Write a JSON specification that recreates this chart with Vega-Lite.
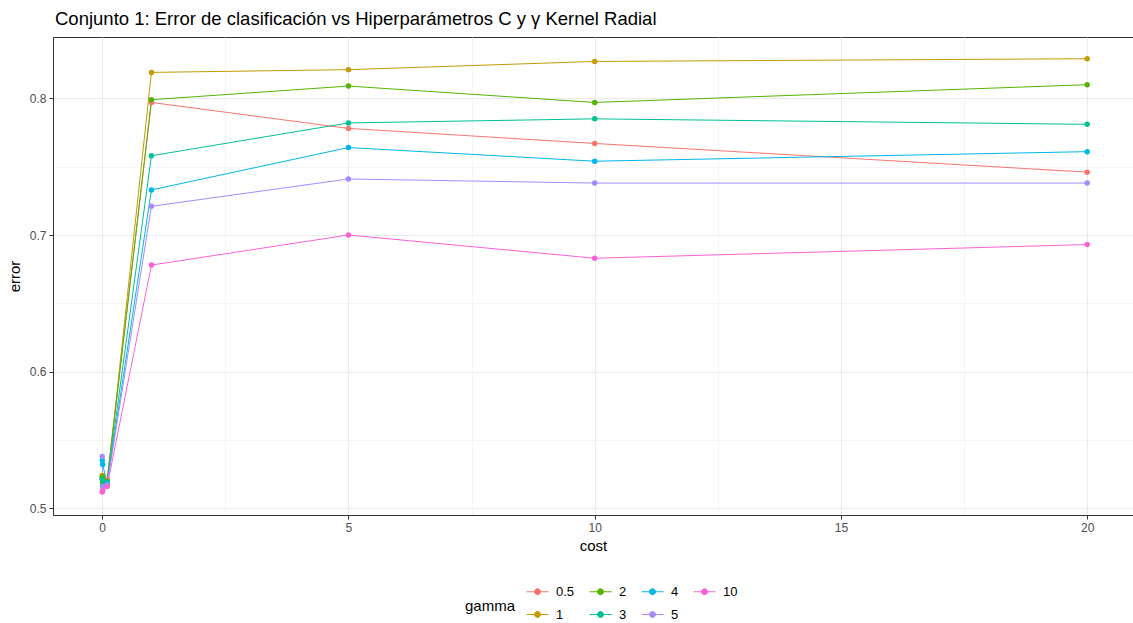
{
  "$schema": "https://vega.github.io/schema/vega-lite/v6.json",
  "autosize": "none",
  "width": 1080,
  "height": 478,
  "padding": {"left": 53, "top": 37, "right": 0, "bottom": 108},
  "background": "white",
  "title": {
    "text": "Conjunto 1: Error de clasificación vs Hiperparámetros C y γ Kernel Radial",
    "anchor": "start",
    "frame": "group",
    "offset": 9,
    "dx": 2,
    "font": "Liberation Sans",
    "fontSize": 18.5,
    "fontWeight": "normal",
    "color": "#000000"
  },
  "config": {
    "view": {"stroke": "#333333", "strokeWidth": 1},
    "font": "Liberation Sans",
    "axis": {
      "labelFont": "Liberation Sans",
      "titleFont": "Liberation Sans",
      "labelColor": "#4D4D4D",
      "labelFontSize": 12,
      "titleFontSize": 15,
      "titleFontWeight": "normal",
      "titleColor": "#000000",
      "domainColor": "#333333",
      "tickSize": 4,
      "tickColor": "#333333"
    }
  },
  "data": {
    "values": [
      {"cost": 0.001, "gamma": "0.5", "error": 0.522},
      {"cost": 0.01, "gamma": "0.5", "error": 0.520},
      {"cost": 0.1, "gamma": "0.5", "error": 0.521},
      {"cost": 1, "gamma": "0.5", "error": 0.797},
      {"cost": 5, "gamma": "0.5", "error": 0.778},
      {"cost": 10, "gamma": "0.5", "error": 0.767},
      {"cost": 20, "gamma": "0.5", "error": 0.746},
      {"cost": 0.001, "gamma": "1", "error": 0.524},
      {"cost": 0.01, "gamma": "1", "error": 0.521},
      {"cost": 0.1, "gamma": "1", "error": 0.518},
      {"cost": 1, "gamma": "1", "error": 0.819},
      {"cost": 5, "gamma": "1", "error": 0.821},
      {"cost": 10, "gamma": "1", "error": 0.827},
      {"cost": 20, "gamma": "1", "error": 0.829},
      {"cost": 0.001, "gamma": "2", "error": 0.523},
      {"cost": 0.01, "gamma": "2", "error": 0.519},
      {"cost": 0.1, "gamma": "2", "error": 0.520},
      {"cost": 1, "gamma": "2", "error": 0.799},
      {"cost": 5, "gamma": "2", "error": 0.809},
      {"cost": 10, "gamma": "2", "error": 0.797},
      {"cost": 20, "gamma": "2", "error": 0.810},
      {"cost": 0.001, "gamma": "3", "error": 0.521},
      {"cost": 0.01, "gamma": "3", "error": 0.517},
      {"cost": 0.1, "gamma": "3", "error": 0.519},
      {"cost": 1, "gamma": "3", "error": 0.758},
      {"cost": 5, "gamma": "3", "error": 0.782},
      {"cost": 10, "gamma": "3", "error": 0.785},
      {"cost": 20, "gamma": "3", "error": 0.781},
      {"cost": 0.001, "gamma": "4", "error": 0.535},
      {"cost": 0.01, "gamma": "4", "error": 0.532},
      {"cost": 0.1, "gamma": "4", "error": 0.518},
      {"cost": 1, "gamma": "4", "error": 0.733},
      {"cost": 5, "gamma": "4", "error": 0.764},
      {"cost": 10, "gamma": "4", "error": 0.754},
      {"cost": 20, "gamma": "4", "error": 0.761},
      {"cost": 0.001, "gamma": "5", "error": 0.538},
      {"cost": 0.01, "gamma": "5", "error": 0.516},
      {"cost": 0.1, "gamma": "5", "error": 0.517},
      {"cost": 1, "gamma": "5", "error": 0.721},
      {"cost": 5, "gamma": "5", "error": 0.741},
      {"cost": 10, "gamma": "5", "error": 0.738},
      {"cost": 20, "gamma": "5", "error": 0.738},
      {"cost": 0.001, "gamma": "10", "error": 0.512},
      {"cost": 0.01, "gamma": "10", "error": 0.513},
      {"cost": 0.1, "gamma": "10", "error": 0.516},
      {"cost": 1, "gamma": "10", "error": 0.678},
      {"cost": 5, "gamma": "10", "error": 0.700},
      {"cost": 10, "gamma": "10", "error": 0.683},
      {"cost": 20, "gamma": "10", "error": 0.693}
    ]
  },
  "mark": {"type": "line", "strokeWidth": 1, "point": {"filled": true, "size": 30, "opacity": 1}},
  "encoding": {
    "x": {
      "field": "cost",
      "type": "quantitative",
      "scale": {"domain": [-0.999, 20.93], "nice": false, "zero": false},
      "axis": {
        "title": "cost",
        "values": [0, 2.5, 5, 7.5, 10, 12.5, 15, 17.5, 20],
        "labelExpr": "datum.value % 5 === 0 ? format(datum.value, 'd') : ''",
        "gridColor": {"condition": {"test": "datum.value % 5 === 0", "value": "#EBEBEB"}, "value": "#F5F5F5"},
        "tickOpacity": {"condition": {"test": "datum.value % 5 === 0", "value": 1}, "value": 0},
        "titlePadding": 5,
        "labelPadding": 3
      }
    },
    "y": {
      "field": "error",
      "type": "quantitative",
      "scale": {"domain": [0.4951, 0.8449], "nice": false, "zero": false},
      "axis": {
        "title": "error",
        "values": [0.5, 0.55, 0.6, 0.65, 0.7, 0.75, 0.8],
        "labelExpr": "round(datum.value * 100) % 10 === 0 ? format(datum.value, '.1f') : ''",
        "gridColor": {"condition": {"test": "round(datum.value * 100) % 10 === 0", "value": "#EBEBEB"}, "value": "#F5F5F5"},
        "tickOpacity": {"condition": {"test": "round(datum.value * 100) % 10 === 0", "value": 1}, "value": 0},
        "titlePadding": 7,
        "labelPadding": 3
      }
    },
    "color": {
      "field": "gamma",
      "type": "nominal",
      "scale": {
        "domain": ["0.5", "2", "4", "10", "1", "3", "5"],
        "range": ["#F8766D", "#53B400", "#00B6EB", "#FB61D7", "#C49A00", "#00C094", "#A58AFF"]
      },
      "legend": {
        "title": "gamma",
        "orient": "none",
        "legendX": 412,
        "legendY": 548,
        "direction": "horizontal",
        "columns": 4,
        "gridAlign": "each",
        "titleOrient": "left",
        "titleFontSize": 15,
        "titleFontWeight": "normal",
        "titleColor": "#000000",
        "titleFont": "Liberation Sans",
        "titleBaseline": "middle",
        "titlePadding": 15,
        "titleAlign": "left",
        "titleLineHeight": 20,
        "labelFont": "Liberation Sans",
        "labelFontSize": 13,
        "labelColor": "#000000",
        "labelOffset": 12,
        "symbolType": "M-2.2,0H2.2M-0.6,0A0.6,0.6,0,1,1,0.6,0A0.6,0.6,0,1,1,-0.6,0Z",
        "symbolSize": 100,
        "symbolStrokeWidth": 1,
        "rowPadding": 9,
        "columnPadding": 12,
        "encode": {
          "symbols": {"update": {"fill": {"scale": "color", "field": "value"}, "stroke": {"scale": "color", "field": "value"}, "opacity": {"value": 1}}},
          "title": {"update": {"dy": {"value": 3}}}
        }
      }
    }
  }
}
